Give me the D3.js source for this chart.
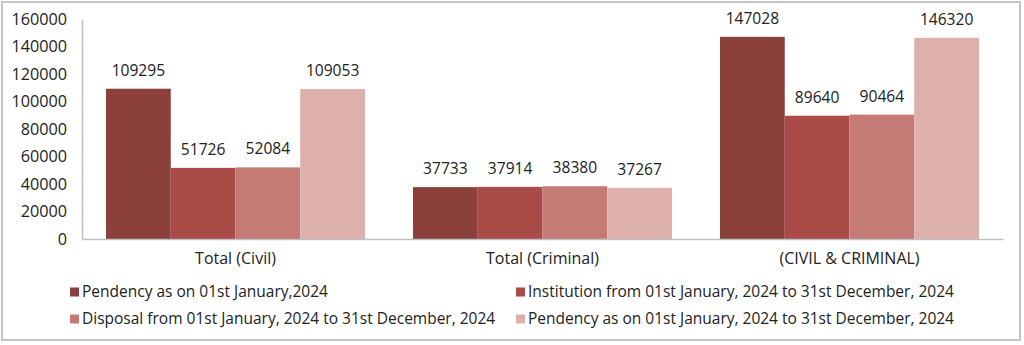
<!DOCTYPE html>
<html>
<head>
<meta charset="utf-8">
<script src="https://cdn.jsdelivr.net/npm/d3@7"></script>
<style>
  html, body { margin: 0; padding: 0; background: #fff; }
  svg { display: block; font-family: "Open Sans", "Noto Sans", sans-serif; }
</style>
</head>
<body>
<svg id="chart" width="1024" height="345"></svg>
<script>
// Case statistics for 2024
const categories = ["Total (Civil)", "Total (Criminal)", "(CIVIL & CRIMINAL)"];
const seriesNames = [
  "Pendency as on 01st January,2024",
  "Institution from 01st January, 2024 to 31st December, 2024",
  "Disposal from 01st January, 2024 to 31st December, 2024",
  "Pendency as on 01st January, 2024 to 31st December, 2024"
];
const pendencyStart = [109295, 37733, 147028];
const institution   = [51726, 37914, 89640];
const disposal      = [52084, 38380, 90464];
const pendencyEnd   = [109053, 37267, 146320];
const yTicks = [0, 20000, 40000, 60000, 80000, 100000, 120000, 140000, 160000];
const colors = ["#8c403b", "#aa4b47", "#c57b75", "#deb0ac"];

const seriesValues = [pendencyStart, institution, disposal, pendencyEnd];

const svg = d3.select("#chart");

// outer frame
svg.append("rect")
  .attr("x", 2).attr("y", 2).attr("width", 1018).attr("height", 338)
  .attr("fill", "#fff").attr("stroke", "#c4c4c4").attr("stroke-width", 2);

const plot = { left: 82, right: 1003, top: 19, bottom: 239 };

const x0 = d3.scaleBand().domain(categories).range([plot.left, plot.right]).padding(0);
const x1 = d3.scaleBand().domain(d3.range(seriesNames.length))
  .range([24, x0.bandwidth() - 24]).padding(0);
const y = d3.scaleLinear().domain([0, 160000]).range([plot.bottom, plot.top]);

// y axis
const yAxis = svg.append("g")
  .attr("transform", `translate(${plot.left},0)`)
  .call(d3.axisLeft(y).tickValues(yTicks).tickSize(0).tickPadding(15).tickFormat(d3.format("d")));
yAxis.select(".domain").attr("stroke", "#bfbfbf").attr("stroke-width", 1.5);
yAxis.selectAll("text").attr("font-size", 16.2).attr("fill", "#222").attr("font-family", "Open Sans");

// bars
const groups = svg.append("g").selectAll("g")
  .data(categories)
  .join("g")
  .attr("transform", d => `translate(${x0(d)},0)`);

groups.selectAll("rect")
  .data((c, ci) => seriesValues.map((vals, si) => ({ si, v: vals[ci] })))
  .join("rect")
  .attr("x", d => x1(d.si))
  .attr("width", x1.bandwidth())
  .attr("y", d => y(d.v))
  .attr("height", d => y(0) - y(d.v))
  .attr("fill", d => colors[d.si]);

groups.selectAll("text.val")
  .data((c, ci) => seriesValues.map((vals, si) => ({ si, v: vals[ci] })))
  .join("text")
  .attr("class", "val")
  .attr("x", d => x1(d.si) + x1.bandwidth() / 2)
  .attr("y", d => y(d.v) - 13)
  .attr("text-anchor", "middle")
  .attr("font-size", 15.6)
  .attr("fill", "#222")
  .text(d => d.v);

// x axis
const xAxis = svg.append("g")
  .attr("transform", `translate(0,${plot.bottom})`)
  .call(d3.axisBottom(x0).tickSize(0).tickPadding(14));
xAxis.select(".domain").attr("stroke", "#bfbfbf").attr("stroke-width", 1.5);
xAxis.selectAll("text").attr("font-size", 16).attr("fill", "#222").attr("font-family", "Open Sans");

// legend
const legendPos = [[70, 292], [516, 292], [70, 319], [516, 319]];
const legend = svg.append("g").selectAll("g")
  .data(seriesNames)
  .join("g")
  .attr("transform", (d, i) => `translate(${legendPos[i][0]},${legendPos[i][1]})`);
legend.append("rect")
  .attr("x", 0).attr("y", -4.5).attr("width", 9).attr("height", 9)
  .attr("fill", (d, i) => colors[i]);
legend.append("text")
  .attr("x", 12).attr("y", 0).attr("dy", "0.35em")
  .attr("font-size", 15.5).attr("fill", "#222")
  .text(d => d);
</script>
</body>
</html>
